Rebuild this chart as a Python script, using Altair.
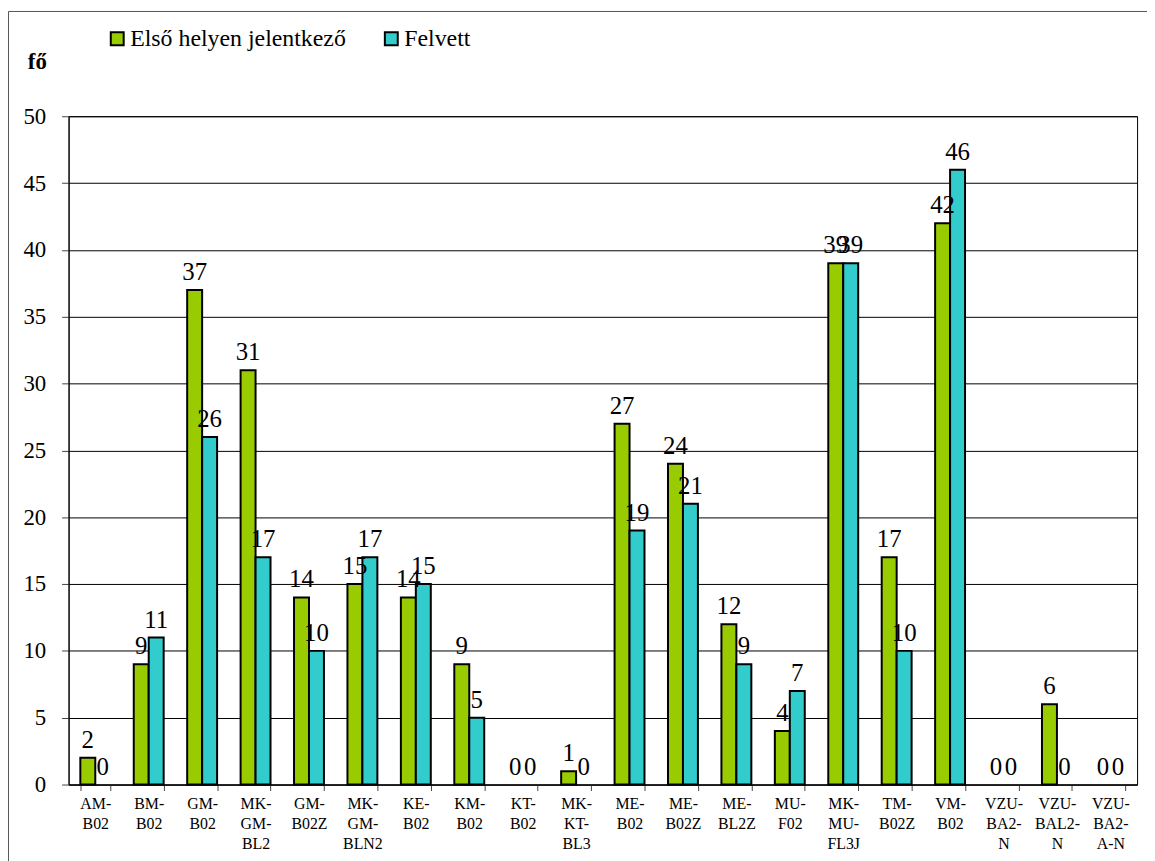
import altair as alt
import pandas as pd

categories = ["AM-\nB02", "BM-\nB02", "GM-\nB02", "MK-\nGM-\nBL2", "GM-\nB02Z",
              "MK-\nGM-\nBLN2", "KE-\nB02", "KM-\nB02", "KT-\nB02", "MK-\nKT-\nBL3",
              "ME-\nB02", "ME-\nB02Z", "ME-\nBL2Z", "MU-\nF02", "MK-\nMU-\nFL3J",
              "TM-\nB02Z", "VM-\nB02", "VZU-\nBA2-\nN", "VZU-\nBAL2-\nN", "VZU-\nBA2-\nA-N"]
first_choice = [2, 9, 37, 31, 14, 15, 14, 9, 0, 1, 27, 24, 12, 4, 39, 17, 42, 0, 6, 0]
admitted = [0, 11, 26, 17, 10, 17, 15, 5, 0, 0, 19, 21, 9, 7, 39, 10, 46, 0, 0, 0]
series = ["Első helyen jelentkező", "Felvett"]
colors = ["#99CC00", "#33CCCC"]
y_ticks = list(range(0, 51, 5))

rows = []
for i, c in enumerate(categories):
    rows.append({"cat": c, "series": series[0], "value": first_choice[i]})
    rows.append({"cat": c, "series": series[1], "value": admitted[i]})
df = pd.DataFrame(rows)

FONT = "Liberation Serif"

x_enc = alt.X("cat:N", sort=categories, title=None,
              scale=alt.Scale(paddingInner=0.44, paddingOuter=0.22),
              axis=alt.Axis(labelExpr="split(datum.label, '\\n')", labelAngle=0,
                            labelFont=FONT, labelFontSize=16, labelLineHeight=20,
                            labelColor="black", labelPadding=5, labelBaseline="top",
                            tickBand="extent", tickSize=6, tickColor="#444",
                            domainColor="black", grid=False, labelLimit=0))
xo_enc = alt.XOffset("series:N", sort=series, scale=alt.Scale(paddingInner=0))
y_enc = alt.Y("value:Q", scale=alt.Scale(domain=[0, 50], nice=False),
              axis=alt.Axis(values=y_ticks, title="fő", titleAngle=0, titleX=-32,
                            titleY=-48, titleAlign="center", titleBaseline="alphabetic",
                            titleFont=FONT, titleFontSize=23, titleFontWeight="bold",
                            titleColor="black",
                            labelFont=FONT, labelFontSize=23, labelColor="black",
                            labelPadding=16, tickSize=7, tickColor="#444",
                            domainColor="black", gridColor="black", gridWidth=1))

base = alt.Chart(df).encode(x=x_enc, xOffset=xo_enc, y=y_enc)

bars = base.mark_bar(stroke="black").encode(
    color=alt.Color("series:N", sort=series,
                    scale=alt.Scale(domain=series, range=colors),
                    legend=alt.Legend(title=None, orient="none", direction="horizontal",
                                      legendX=37, legendY=-90, symbolType="square",
                                      symbolSize=169, symbolStrokeColor="black",
                                      symbolStrokeWidth=2, symbolOpacity=1,
                                      labelFont=FONT, labelFontSize=24,
                                      labelColor="black", labelOffset=1,
                                      labelLimit=0, columnPadding=33)),
    strokeWidth=alt.condition(alt.datum.value > 0, alt.value(2), alt.value(0)),
)

labels = base.mark_text(font=FONT, fontSize=25, color="black", baseline="alphabetic",
                        dy=-10).encode(text="value:Q")

border_df = pd.DataFrame({"k": [0]})
border_left = alt.Chart(border_df).mark_rule(color="#555", strokeWidth=1).encode(
    x=alt.value(-60.5), y=alt.value(-105.5), y2=alt.value(760))
border_top = alt.Chart(border_df).mark_rule(color="#555", strokeWidth=1).encode(
    x=alt.value(-60.5), x2=alt.value(1090), y=alt.value(-105.5))

chart = alt.layer(bars, labels, border_left, border_top).properties(
    width=1076, height=673,
    padding={"left": 61, "top": 106, "right": 10, "bottom": 74},
    autosize=alt.AutoSizeParams(type="none"),
).configure(font=FONT).configure_view(stroke="black", strokeWidth=1)

chart.save("out.html", embed_options={"renderer": "svg", "actions": False})
